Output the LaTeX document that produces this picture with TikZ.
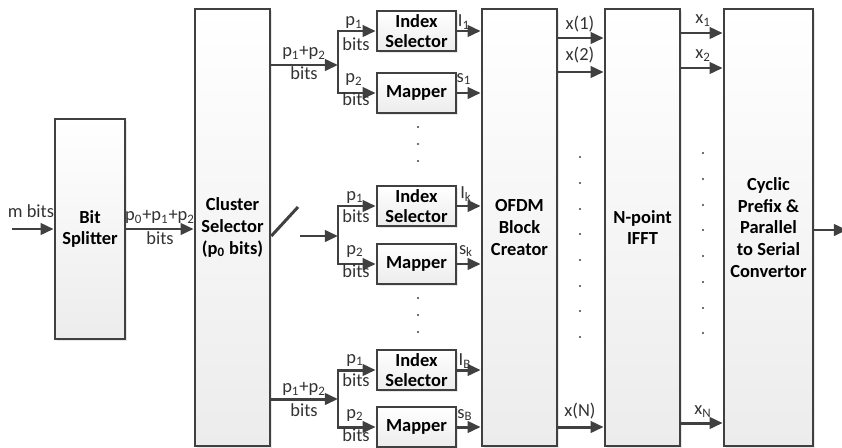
\documentclass[tikz,border=0pt]{standalone}
\usepackage{fontspec}
\setmainfont{Carlito}
\usetikzlibrary{arrows.meta, positioning, shadows, calc}
\definecolor{linecolor}{RGB}{64,64,64}
\definecolor{fillbottom}{RGB}{236,236,236}

\begin{document}
\begin{tikzpicture}[
    x=0.02cm, y=-0.02cm,
    block/.style={rectangle, draw=linecolor, line width=1.5pt, top color=white, bottom color=fillbottom,
        minimum width=1.5cm, minimum height=8.74cm, align=center, inner sep=1pt,
        font=\fontsize{10.5}{12.3}\selectfont\bfseries,
        drop shadow={opacity=0.18, shadow xshift=1pt, shadow yshift=-1pt}},
    subblock/.style={block, minimum width=1.58cm, minimum height=0.8cm, font=\fontsize{10.5}{11.2}\selectfont\bfseries},
    lbl/.style={inner sep=0pt, font=\fontsize{10.5}{12}\selectfont, text=linecolor!80!black},
    arrow/.style={-{Triangle[length=7.5pt, width=6.5pt]}, line width=1.7pt, draw=linecolor},
    twoway/.style={{Triangle[length=7.5pt, width=6.5pt]}-{Triangle[length=7.5pt, width=6.5pt]}, line width=1.7pt, draw=linecolor},
    wire/.style={line width=1.7pt, draw=linecolor}
]
    \useasboundingbox (0,0) rectangle (842,447);

    % Main blocks
    \node[block, minimum width=1.4cm, minimum height=4.4cm] (split) at (90,229) {Bit\\Splitter};
    \node[block] (cluster) at (232.5,227.5) {Cluster\\Selector\\(p\textsubscript{0} bits)};
    \node[block] (ofdm) at (519.5,227.5) {OFDM\\Block\\Creator};
    \node[block] (ifft) at (642.5,227.5) {N-point\\IFFT};
    \node[block, minimum width=1.78cm] (cp) at (768.5,227.5) {Cyclic\\Prefix \&\\Parallel\\to Serial\\Convertor};

    % Index selectors and mappers
    \node[subblock] (index1) at (416.5,31) {Index\\Selector};
    \node[subblock] (mapper1) at (416.5,93) {Mapper};
    \node[subblock] (indexk) at (416.5,206) {Index\\Selector};
    \node[subblock] (mapperk) at (416.5,264) {Mapper};
    \node[subblock] (indexB) at (416.5,370) {Index\\Selector};
    \node[subblock] (mapperB) at (416.5,427) {Mapper};

    % Input and splitter
    \coordinate (in) at (12,229);
    \draw[arrow] (in) -- (split.west |- in);
    \node[lbl] (mbits) at (31,211) {m bits};
    \draw[arrow] (split.east |- in) -- (cluster.west |- in);
    \node[lbl] (p012) at (160,217) {p\textsubscript{0}+p\textsubscript{1}+p\textsubscript{2}};
    \node[lbl] (bits0) at (160,238) {bits};

    % First cluster
    \coordinate (b1) at (338,65);
    \draw[arrow] (cluster.east |- b1) -- (b1);
    \draw[twoway] (index1.west) -| (b1 |- mapper1) -- (mapper1.west);
    \node[lbl] (p12a) at (304,53) {p\textsubscript{1}+p\textsubscript{2}};
    \node[lbl] (bits1) at (304,73) {bits};
    \node[lbl] (p1a) at (354,23) {p\textsubscript{1}};
    \node[lbl] (bits1a) at (356,44) {bits};
    \node[lbl] (p2a) at (354,80) {p\textsubscript{2}};
    \node[lbl] (bits2a) at (356,99) {bits};
    \draw[arrow] (index1.east) -- (ofdm.west |- index1);
    \draw[arrow] (mapper1.east) -- (ofdm.west |- mapper1);
    \node[lbl] (I1) at (464,22) {I\textsubscript{1}};
    \node[lbl] (s1) at (464,79) {s\textsubscript{1}};

    % k-th cluster (switch)
    \coordinate (ink) at (300,236);
    \coordinate (bk) at (338,236);
    \coordinate (sw) at (298,207);
    \draw[wire] (cluster.east |- ink) -- (sw);
    \draw[arrow] (ink) -- (bk);
    \draw[twoway] (indexk.west) -| (bk |- mapperk) -- (mapperk.west);
    \node[lbl] (p1k) at (355,197) {p\textsubscript{1}};
    \node[lbl] (bits1k) at (356,216) {bits};
    \node[lbl] (p2k) at (355,251) {p\textsubscript{2}};
    \node[lbl] (bits2k) at (356,271) {bits};
    \draw[arrow] (indexk.east) -- (ofdm.west |- indexk);
    \draw[arrow] (mapperk.east) -- (ofdm.west |- mapperk);
    \node[lbl] (Ik) at (466,194) {I\textsubscript{k}};
    \node[lbl] (sk) at (466,251) {s\textsubscript{k}};

    % B-th cluster
    \coordinate (bB) at (338,399);
    \draw[arrow] (cluster.east |- bB) -- (bB);
    \draw[twoway] (indexB.west) -| (bB |- mapperB) -- (mapperB.west);
    \node[lbl] (p12B) at (304,389) {p\textsubscript{1}+p\textsubscript{2}};
    \node[lbl] (bitsB) at (304,410) {bits};
    \node[lbl] (p1B) at (355,360) {p\textsubscript{1}};
    \node[lbl] (bits1B) at (356,380) {bits};
    \node[lbl] (p2B) at (355,415) {p\textsubscript{2}};
    \node[lbl] (bits2B) at (356,435) {bits};
    \draw[arrow] (indexB.east) -- (ofdm.west |- indexB);
    \draw[arrow] (mapperB.east) -- (ofdm.west |- mapperB);
    \node[lbl] (IB) at (465,361) {I\textsubscript{B}};
    \node[lbl] (sB) at (465,415) {s\textsubscript{B}};

    % OFDM block to IFFT
    \coordinate (y1) at (0,38);
    \coordinate (y2) at (0,72);
    \coordinate (yN) at (0,427);
    \draw[arrow] (ofdm.east |- y1) -- (ifft.west |- y1);
    \draw[arrow] (ofdm.east |- y2) -- (ifft.west |- y2);
    \draw[arrow] (ofdm.east |- yN) -- (ifft.west |- yN);
    \node[lbl] (xo1) at (580,24) {x(1)};
    \node[lbl] (xo2) at (580,55) {x(2)};
    \node[lbl] (xoN) at (580,411) {x(N)};

    % IFFT to cyclic prefix
    \coordinate (z1) at (0,33);
    \coordinate (z2) at (0,68);
    \coordinate (zN) at (0,423);
    \draw[arrow] (ifft.east |- z1) -- (cp.west |- z1);
    \draw[arrow] (ifft.east |- z2) -- (cp.west |- z2);
    \draw[arrow] (ifft.east |- zN) -- (cp.west |- zN);
    \node[lbl] (xt1) at (703,21) {x\textsubscript{1}};
    \node[lbl] (xt2) at (703,56) {x\textsubscript{2}};
    \node[lbl] (xtN) at (703,412) {x\textsubscript{N}};

    % Output
    \coordinate (out) at (847,230);
    \draw[arrow] (cp.east |- out) -- (out);

    % Dots
    \foreach \y in {127,144,161,298,315,332}
        \fill[linecolor] (418,\y) circle (0.7pt);
    \foreach \y in {157,183,209,234,260,286,311,337}
        \fill[linecolor] (580,\y) circle (0.7pt);
    \foreach \y in {153,179,205,230,256,282,308,333}
        \fill[linecolor] (703,\y) circle (0.7pt);

\end{tikzpicture}
\end{document}
